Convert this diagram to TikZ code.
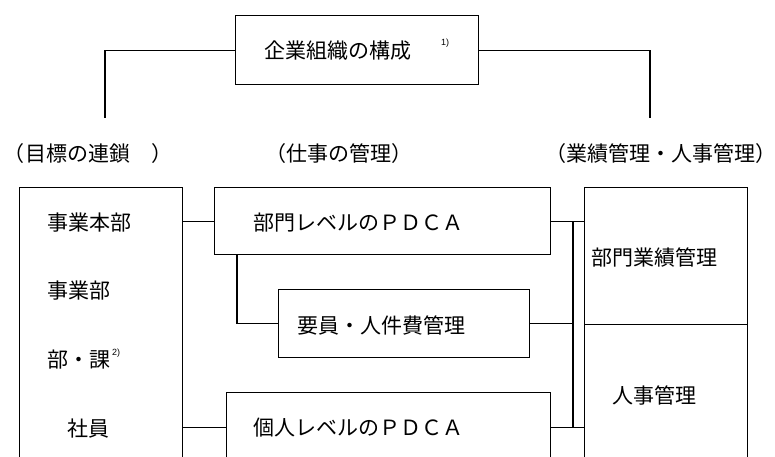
\documentclass[tikz,border=0pt]{standalone}
\usepackage{fontspec}
\usetikzlibrary{calc}
\newfontfamily\jpfont{Noto Sans CJK JP}
\newfontfamily\supfont{Liberation Sans}
\begin{document}
\begin{tikzpicture}[x=1pt,y=-1pt,
  jp/.style={font=\jpfont\fontsize{21pt}{21pt}\selectfont, inner sep=0pt, text height=18.5pt, text depth=2.5pt},
  supr/.style={font=\supfont\fontsize{9pt}{9pt}\selectfont, inner sep=0pt, anchor=west},
  boxn/.style={draw, line width=1.1pt, anchor=north west, inner sep=0pt},
  conn/.style={draw, line width=1.1pt}
]
\useasboundingbox (0,0) rectangle (775,456);
\clip (0,0) rectangle (775,456);

% boxes
\node[boxn, minimum width=243pt, minimum height=69pt] (top) at (235,15) {};
\node[boxn, minimum width=163pt, minimum height=300pt] (lbox) at (19,187) {};
\node[boxn, minimum width=336pt, minimum height=67pt] (pdca) at (214,187) {};
\node[boxn, minimum width=251pt, minimum height=68pt] (yoin) at (278,289) {};
\node[boxn, minimum width=324pt, minimum height=70pt] (kojin) at (226,392) {};
\node[boxn, minimum width=163pt, minimum height=137pt] (rtop) at (584,187) {};
\node[boxn, minimum width=163pt, minimum height=160pt] (rbot) at (584,324) {};

% texts
\node[jp, anchor=west] (ttop) at (264,50) {企業組織の構成};
\node[supr] (s1) at (441,43) {1)};

\node[jp] (l1) at (88,153) {（目標の連鎖　）};
\node[jp] (l2) at (339,153) {（仕事の管理）};
\node[jp] (l3) at (661,153) {（業績管理・人事管理）};

\node[jp, anchor=west] (a1) at (47,222) {事業本部};
\node[jp, anchor=west] (a2) at (47,290) {事業部};
\node[jp, anchor=west] (a3) at (47,359) {部・課};
\node[supr] (s2) at (112,353) {2)};
\node[jp] (a4) at (88,428) {社員};

\node[jp, anchor=west] (tpdca) at (253,222) {部門レベルのＰＤＣＡ};
\node[jp, anchor=west] (tyoin) at (297,325) {要員・人件費管理};
\node[jp, anchor=west] (tkojin) at (253,427) {個人レベルのＰＤＣＡ};
\node[jp, anchor=west] (trtop) at (591,257) {部門業績管理};
\node[jp, anchor=west] (trbot) at (612,395) {人事管理};

% connectors
\coordinate (lend) at (105,118);
\coordinate (rend) at (650,118);
\draw[conn] (top.west) -| (lend);
\draw[conn] (top.east) -| (rend);

\draw[conn] (pdca.west -| lbox.east) -- (pdca.west);
\draw[conn] (kojin.west -| lbox.east) -- (kojin.west);

\coordinate (br) at ($(pdca.south west)+(23,0)$);
\draw[conn] (br) |- (yoin.west);

\coordinate (bus) at (573,0);
\draw[conn] (pdca.east) -- (pdca.east -| rtop.west);
\draw[conn] (yoin.east) -- (yoin.east -| bus);
\draw[conn] (kojin.east) -- (kojin.east -| rbot.west);
\draw[conn] (pdca.east -| bus) -- (kojin.east -| bus);
\end{tikzpicture}
\end{document}
